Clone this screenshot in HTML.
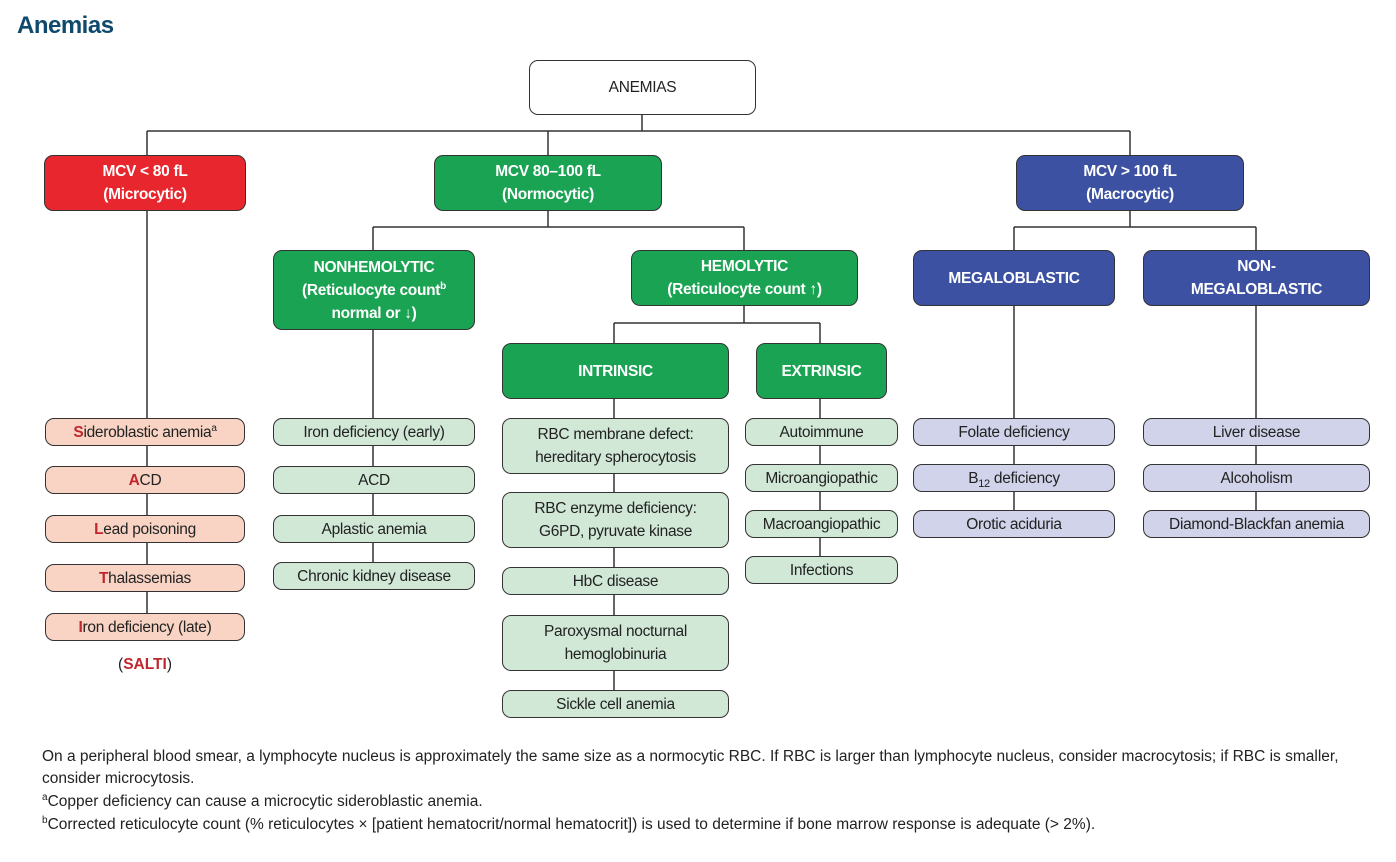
<!DOCTYPE html>
<html><head><meta charset="utf-8"><style>
body{margin:0;width:1396px;height:862px;background:#fff;position:relative;font-family:"Liberation Sans",sans-serif;overflow:hidden}
.b{position:absolute;box-sizing:border-box;border:1.5px solid #333;border-radius:9px;display:flex;align-items:center;justify-content:center;text-align:center;font-size:15.5px;line-height:23px;color:#222;letter-spacing:-0.3px}
.h{color:#fff;font-weight:bold;font-size:15.5px}
.r{background:#e8262d}.g{background:#1aa352}.u{background:#3c51a1}
.p{background:#f9d4c4}.l{background:#d1e8d6}.v{background:#d0d3e9}
.k{color:#c0262d;font-weight:bold}
.f{position:absolute;left:42px;font-size:15.5px;color:#222;letter-spacing:0px;white-space:nowrap}
sup{font-size:10px;line-height:0}
sub{font-size:11px;line-height:0}
</style></head><body>
<div style="position:absolute;left:17px;top:12px;font-size:24px;font-weight:bold;color:#0f4a6e;letter-spacing:-0.5px">Anemias</div>
<svg width="1396" height="862" style="position:absolute;left:0;top:0" stroke="#333" stroke-width="1.5" fill="none">
<path d="M642 115V131M147 131H1130M147 131V155M548 131V155M1130 131V155"/>
<path d="M548 211V227M373 227H744M373 227V250M744 227V250"/>
<path d="M1130 211V227M1014 227H1256M1014 227V250M1256 227V250"/>
<path d="M744 306V323M614 323H820M614 323V343M820 323V343"/>
<path d="M147 211V613M373 330V562M614 399V690M820 399V556M1014 306V510M1256 306V510"/>
</svg>
<div class="b" style="left:529px;top:60px;width:227px;height:55px;background:#fff"><span>ANEMIAS</span></div>
<div class="b h r" style="left:44px;top:155px;width:202px;height:56px"><span>MCV &lt; 80 fL<br>(Microcytic)</span></div>
<div class="b h g" style="left:434px;top:155px;width:228px;height:56px"><span>MCV 80–100 fL<br>(Normocytic)</span></div>
<div class="b h u" style="left:1016px;top:155px;width:228px;height:56px"><span>MCV &gt; 100 fL<br>(Macrocytic)</span></div>
<div class="b h g" style="left:273px;top:250px;width:202px;height:80px"><span>NONHEMOLYTIC<br>(Reticulocyte count<sup>b</sup><br>normal or ↓)</span></div>
<div class="b h g" style="left:631px;top:250px;width:227px;height:56px"><span>HEMOLYTIC<br>(Reticulocyte count ↑)</span></div>
<div class="b h u" style="left:913px;top:250px;width:202px;height:56px"><span>MEGALOBLASTIC</span></div>
<div class="b h u" style="left:1143px;top:250px;width:227px;height:56px"><span>NON-<br>MEGALOBLASTIC</span></div>
<div class="b h g" style="left:502px;top:343px;width:227px;height:56px"><span>INTRINSIC</span></div>
<div class="b h g" style="left:756px;top:343px;width:131px;height:56px"><span>EXTRINSIC</span></div>

<div class="b p" style="left:45px;top:418px;width:200px;height:28px"><span><span class="k">S</span>ideroblastic anemia<sup>a</sup></span></div>
<div class="b p" style="left:45px;top:466px;width:200px;height:28px"><span><span class="k">A</span>CD</span></div>
<div class="b p" style="left:45px;top:515px;width:200px;height:28px"><span><span class="k">L</span>ead poisoning</span></div>
<div class="b p" style="left:45px;top:564px;width:200px;height:28px"><span><span class="k">T</span>halassemias</span></div>
<div class="b p" style="left:45px;top:613px;width:200px;height:28px"><span><span class="k">I</span>ron deficiency (late)</span></div>
<div style="position:absolute;left:45px;width:200px;top:656px;text-align:center;font-size:15.5px;color:#222">(<span class="k">SALTI</span>)</div>

<div class="b l" style="left:273px;top:418px;width:202px;height:28px"><span>Iron deficiency (early)</span></div>
<div class="b l" style="left:273px;top:466px;width:202px;height:28px"><span>ACD</span></div>
<div class="b l" style="left:273px;top:515px;width:202px;height:28px"><span>Aplastic anemia</span></div>
<div class="b l" style="left:273px;top:562px;width:202px;height:28px"><span>Chronic kidney disease</span></div>

<div class="b l" style="left:502px;top:418px;width:227px;height:56px"><span>RBC membrane defect:<br>hereditary spherocytosis</span></div>
<div class="b l" style="left:502px;top:492px;width:227px;height:56px"><span>RBC enzyme deficiency:<br>G6PD, pyruvate kinase</span></div>
<div class="b l" style="left:502px;top:567px;width:227px;height:28px"><span>HbC disease</span></div>
<div class="b l" style="left:502px;top:615px;width:227px;height:56px"><span>Paroxysmal nocturnal<br>hemoglobinuria</span></div>
<div class="b l" style="left:502px;top:690px;width:227px;height:28px"><span>Sickle cell anemia</span></div>

<div class="b l" style="left:745px;top:418px;width:153px;height:28px"><span>Autoimmune</span></div>
<div class="b l" style="left:745px;top:464px;width:153px;height:28px"><span>Microangiopathic</span></div>
<div class="b l" style="left:745px;top:510px;width:153px;height:28px"><span>Macroangiopathic</span></div>
<div class="b l" style="left:745px;top:556px;width:153px;height:28px"><span>Infections</span></div>

<div class="b v" style="left:913px;top:418px;width:202px;height:28px"><span>Folate deficiency</span></div>
<div class="b v" style="left:913px;top:464px;width:202px;height:28px"><span>B<sub>12</sub> deficiency</span></div>
<div class="b v" style="left:913px;top:510px;width:202px;height:28px"><span>Orotic aciduria</span></div>
<div class="b v" style="left:1143px;top:418px;width:227px;height:28px"><span>Liver disease</span></div>
<div class="b v" style="left:1143px;top:464px;width:227px;height:28px"><span>Alcoholism</span></div>
<div class="b v" style="left:1143px;top:510px;width:227px;height:28px"><span>Diamond-Blackfan anemia</span></div>

<div class="f" style="top:748px">On a peripheral blood smear, a lymphocyte nucleus is approximately the same size as a normocytic RBC. If RBC is larger than lymphocyte nucleus, consider macrocytosis; if RBC is smaller,</div>
<div class="f" style="top:770px">consider microcytosis.</div>
<div class="f" style="top:793px"><sup>a</sup>Copper deficiency can cause a microcytic sideroblastic anemia.</div>
<div class="f" style="top:816px"><sup>b</sup>Corrected reticulocyte count (% reticulocytes × [patient hematocrit/normal hematocrit]) is used to determine if bone marrow response is adequate (&gt; 2%).</div>
</body></html>
